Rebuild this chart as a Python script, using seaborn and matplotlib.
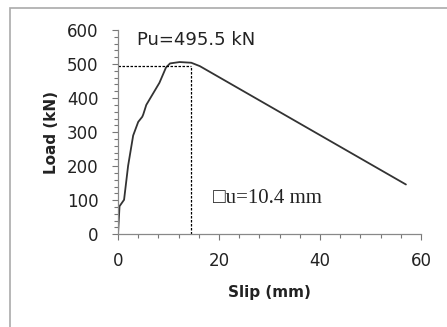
import matplotlib
matplotlib.use("Agg")
import matplotlib.pyplot as plt
import seaborn as sns
import pandas as pd
from matplotlib.patches import Rectangle
from matplotlib.ticker import MultipleLocator

# load-slip curve
slip = [0, 0.3, 1.2, 2.0, 3.0, 4.0, 4.8, 5.0, 5.6, 7.0, 8.2, 9.5, 10.3, 12.2, 14.5, 16.2, 57.0]
load = [0, 82, 101, 201, 290, 330, 345, 352, 380, 415, 445, 490, 502, 506, 504, 494, 146]
pu = 495.5
du_slip = 14.4
pu_label = "Pu=495.5 kN"
du_label = "\u25a1u=10.4 mm"

df = pd.DataFrame({"Slip": slip, "Load": load})

sns.set_theme(style="white")
plt.rcParams['font.family'] = ['DejaVu Sans']

fig = plt.figure(figsize=(4.47, 3.27), dpi=100)
ax = fig.add_axes([0.264, 0.284, 0.678, 0.624])

sns.lineplot(data=df, x="Slip", y="Load", sort=False, color="#333333", lw=1.3, ax=ax)

# dashed guide lines at peak
ax.plot([0, du_slip], [pu, pu], ls=(0, (2, 1.2)), color="black", lw=0.9)
ax.plot([du_slip, du_slip], [0, pu], ls=(0, (2, 1.2)), color="black", lw=0.9)

ax.set_xlim(0, 60)
ax.set_ylim(0, 600)
ax.xaxis.set_major_locator(MultipleLocator(20))
ax.xaxis.set_minor_locator(MultipleLocator(4))
ax.yaxis.set_major_locator(MultipleLocator(100))
ax.yaxis.set_minor_locator(MultipleLocator(20))
ax.tick_params(which="both", direction="out", color="#777777", width=0.8,
               labelsize=12, labelcolor="#222222", bottom=True, left=True)
ax.tick_params(which="major", length=4)
ax.tick_params(which="minor", length=3)
ax.tick_params(axis="x", pad=9)
ax.tick_params(axis="y", pad=10)

for s in ["top", "right"]:
    ax.spines[s].set_visible(False)
for s in ["left", "bottom"]:
    ax.spines[s].set_color("#888888")
    ax.spines[s].set_linewidth(0.9)

ax.set_xlabel("Slip (mm)", fontsize=11, fontweight="bold", color="#222222", labelpad=11)
ax.set_ylabel("Load (kN)", fontsize=11, fontweight="bold", color="#222222", labelpad=6)

ax.text(3.8, 570, pu_label, fontsize=13, color="#222222", va="center", ha="left")
ax.text(18.8, 104, du_label, fontsize=15, color="#222222", va="center", ha="left",
        family=["Liberation Serif", "DejaVu Sans"])

# outer frame of the original picture
fig.patches.append(Rectangle((10 / 447, -0.05), 1.2, 1 - 8 / 327 + 0.05,
                             transform=fig.transFigure, fill=False,
                             edgecolor="#aaaaaa", lw=1.2))

fig.savefig("out.png", dpi=100)
